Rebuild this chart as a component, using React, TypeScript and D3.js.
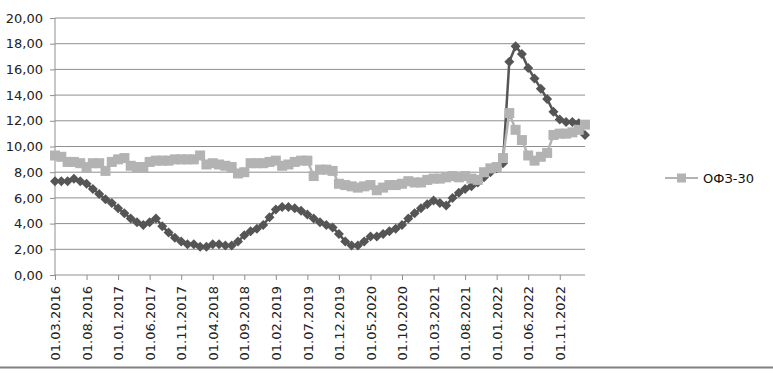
import React, { useEffect, useRef } from 'react';
import * as d3 from 'd3';

// monthly points, 01.03.2016 .. 01.03.2023
const months = d3.timeMonth.range(new Date(2016, 2, 1), new Date(2023, 3, 1));

const keyRate: number[] = [
  7.3, 7.3, 7.3, 7.5, 7.3, 7.1, 6.7, 6.3, 5.9, 5.6,
  5.2, 4.8, 4.4, 4.1, 3.9, 4.1, 4.4, 3.8, 3.3, 2.9,
  2.6, 2.4, 2.4, 2.2, 2.2, 2.4, 2.4, 2.3, 2.3, 2.6,
  3.1, 3.4, 3.6, 3.9, 4.5, 5.1, 5.3, 5.3, 5.2, 5.0,
  4.7, 4.4, 4.1, 3.9, 3.7, 3.2, 2.6, 2.3, 2.3, 2.6,
  3.0, 3.0, 3.2, 3.4, 3.6, 3.9, 4.4, 4.8, 5.2, 5.5,
  5.8, 5.6, 5.4, 6.0, 6.4, 6.7, 6.9, 7.2, 7.6, 8.0,
  8.3, 8.7, 16.6, 17.8, 17.2, 16.1, 15.3, 14.5, 13.7, 12.7,
  12.1, 11.9, 11.9, 11.8, 10.9,
];

const ofz30: number[] = [
  9.3, 9.2, 8.8, 8.8, 8.7, 8.4, 8.7, 8.7, 8.1, 8.8,
  9.0, 9.1, 8.5, 8.4, 8.4, 8.8, 8.9, 8.9, 8.9, 9.0,
  9.0, 9.0, 9.0, 9.3, 8.6, 8.7, 8.6, 8.5, 8.4, 7.9,
  8.0, 8.7, 8.7, 8.7, 8.8, 8.9, 8.5, 8.6, 8.8, 8.9,
  8.9, 7.7, 8.2, 8.2, 8.1, 7.1, 7.0, 6.9, 6.8, 6.9,
  7.0, 6.6, 6.8, 7.0, 7.0, 7.1, 7.3, 7.2, 7.2, 7.4,
  7.5, 7.5, 7.6, 7.7, 7.6, 7.7, 7.5, 7.4, 8.0, 8.3,
  8.4, 9.1, 12.6, 11.3, 10.5, 9.3, 8.9, 9.2, 9.5, 10.9,
  11.0, 11.0, 11.1, 11.3, 11.7,
];

const yTicks = [0, 2, 4, 6, 8, 10, 12, 14, 16, 18, 20];
const seriesName = 'ОФЗ-30';

const fmtDate = d3.timeFormat('%d.%m.%Y');
const fmtVal = (v: number) => v.toFixed(2).replace('.', ',');

export default function App() {
  const ref = useRef<SVGSVGElement>(null);

  useEffect(() => {
    if (!ref.current) return;
    const svg = d3.select(ref.current);
    svg.selectAll('*').remove();

    const font = '"DejaVu Sans", Verdana, sans-serif';
    const x = d3.scaleLinear().domain([0, months.length - 1]).range([55, 585]);
    const y = d3.scaleLinear().domain([0, 20]).range([275, 18]);

    // gridlines
    svg.append('g')
      .selectAll('line')
      .data(yTicks.slice(1))
      .enter()
      .append('line')
      .attr('x1', 55)
      .attr('x2', 585)
      .attr('y1', (d) => y(d))
      .attr('y2', (d) => y(d))
      .attr('stroke', '#8f8f8f')
      .attr('stroke-width', 1);

    // Y axis
    const yAxis = d3.axisLeft(y).tickValues(yTicks).tickSize(5).tickFormat((d) => fmtVal(+d));
    svg.append('g')
      .attr('transform', 'translate(55,0)')
      .call(yAxis)
      .call((g) => g.select('.domain').attr('stroke', '#8f8f8f').attr('d', `M0,${y(0)}V${y(20)}`))
      .call((g) => g.selectAll('.tick line').attr('stroke', '#8f8f8f'))
      .call((g) =>
        g.selectAll('.tick text').attr('fill', '#222').attr('font-size', '13px').attr('font-family', font).attr('x', -12)
      );

    // X axis
    const tickIdx = d3.range(0, months.length, 5);
    const xAxis = d3.axisBottom(x).tickValues(tickIdx).tickSize(5).tickFormat((d) => fmtDate(months[+d]));
    svg.append('g')
      .attr('transform', `translate(0,${y(0)})`)
      .call(xAxis)
      .call((g) => g.select('.domain').attr('stroke', '#8f8f8f').attr('d', `M55,0H585`))
      .call((g) => g.selectAll('.tick line').attr('stroke', '#8f8f8f'))
      .call((g) =>
        g.selectAll('.tick text')
          .attr('fill', '#222')
          .attr('font-size', '13px')
          .attr('font-family', font)
          .attr('transform', 'rotate(-90)')
          .attr('text-anchor', 'end')
          .attr('x', -11)
          .attr('y', 0)
          .attr('dy', '0.36em')
      );

    const line = d3.line<number>().x((_, i) => x(i)).y((d) => y(d));

    // dark series
    const dark = '#555555';
    svg.append('path').datum(keyRate).attr('d', line).attr('fill', 'none').attr('stroke', dark).attr('stroke-width', 2.5);
    svg.append('g')
      .selectAll('path')
      .data(keyRate)
      .enter()
      .append('path')
      .attr('d', 'M0,-5L5,0L0,5L-5,0Z')
      .attr('transform', (d, i) => `translate(${x(i)},${y(d)})`)
      .attr('fill', dark);

    // ОФЗ-30
    const grey = '#b3b3b3';
    svg.append('path').datum(ofz30).attr('d', line).attr('fill', 'none').attr('stroke', grey).attr('stroke-width', 2.5);
    svg.append('g')
      .selectAll('rect')
      .data(ofz30)
      .enter()
      .append('rect')
      .attr('x', (_, i) => x(i) - 5)
      .attr('y', (d) => y(d) - 5)
      .attr('width', 10)
      .attr('height', 10)
      .attr('fill', grey);

    // legend
    const lg = svg.append('g').attr('transform', 'translate(665,178)');
    lg.append('line').attr('x1', 0).attr('x2', 33).attr('y1', 0).attr('y2', 0).attr('stroke', grey).attr('stroke-width', 2);
    lg.append('rect').attr('x', 12).attr('y', -4.5).attr('width', 9).attr('height', 9).attr('fill', grey);
    lg.append('text')
      .attr('x', 38)
      .attr('y', 0)
      .attr('dy', '0.36em')
      .attr('font-size', '13px')
      .attr('font-family', font)
      .attr('fill', '#111')
      .text(seriesName);

    // bottom border
    svg.append('line').attr('x1', 0).attr('x2', 773).attr('y1', 367.5).attr('y2', 367.5).attr('stroke', '#808080').attr('stroke-width', 2);
  }, []);

  return (
    <svg
      ref={ref}
      width={773}
      height={373}
      style={{ position: 'absolute', left: 0, top: 0, background: '#fff' }}
    />
  );
}
